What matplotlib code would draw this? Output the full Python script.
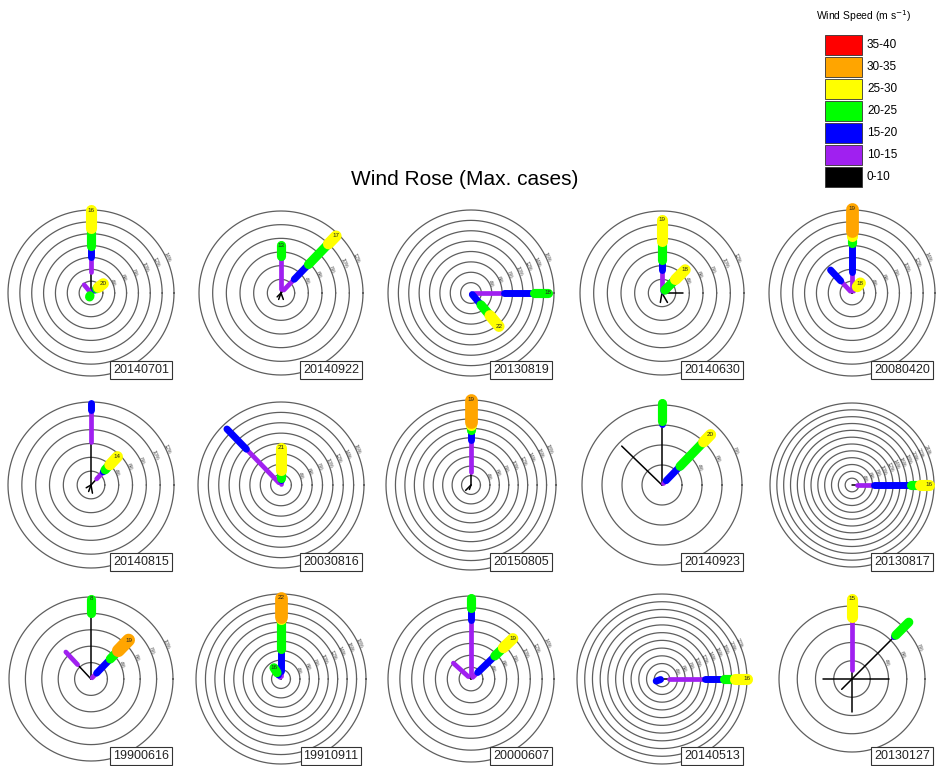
import numpy as np
import matplotlib
matplotlib.use('Agg')
import matplotlib.pyplot as plt

plt.rcParams['font.family'] = ['Liberation Sans', 'DejaVu Sans']

W, H = 937, 766

# ---- data ----
speed_bins = ['0-10', '10-15', '15-20', '20-25', '25-30', '30-35', '35-40']
bin_colors = ['#000000', '#a020f0', '#0000ff', '#00ff00', '#ffff00', '#ffa500', '#ff0000']
bin_widths = [1.1, 3.4, 5.0, 6.6, 8.0, 9.2, 10.0]

dates = ['20140701', '20140922', '20130819', '20140630', '20080420',
         '20140815', '20030816', '20150805', '20140923', '20130817',
         '19900616', '19910911', '20000607', '20140513', '20130127']
n_rings = [7, 6, 8, 6, 7, 6, 8, 9, 4, 12, 5, 9, 7, 11, 4]
outer_px = [83, 82, 83, 82, 83, 83, 83, 85, 80, 82, 82, 85, 83, 85, 73]

# wind directions (deg, clockwise from north) of each spoke
spoke_dirs = [
    [0, 53, 320, 200],
    [0, 44, 200, 160, 225],
    [90, 140],
    [0, 45, 90, 150, 190],
    [0, 317, 40],
    [0, 43, 170, 200, 240],
    [316, 0],
    [0, 225, 200],
    [0, 44, 314],
    [90],
    [0, 44, 317],
    [0, 328],
    [0, 46, 312],
    [90, 250],
    [0, 45, 90, 270, 180, 225],
]
# frequency contributed by each speed bin (ring units), per spoke
spoke_segs = [
    [[1.8, 1.2, 1.0, 1.5, 1.5], [0.2, 0.2, 0.2, 0.2, 0.5], [0.3, 0.6], [0.15, 0.05, 0.05, 0.1]],
    [[0.3, 2.3, 0.1, 0.8], [0.3, 1.1, 1.5, 2.1, 0.8], [0.5], [0.5], [0.4]],
    [[0.3, 2.9, 2.9, 1.3], [0.1, 0.1, 1.3, 1.35, 1.35]],
    [[0.3, 1.4, 0.7, 1.4, 1.55], [0.1, 0.1, 0.1, 1.1, 1.0], [1.5], [0.8], [0.7]],
    [[0.3, 1.5, 2.4, 0.6, 0.4, 1.9], [0.2, 1.2, 1.25], [0.2, 0.5, 0, 0, 0.4]],
    [[3.1, 2.3, 0.5], [0.6, 0.7, 0.2, 0.5, 0.8], [0.6], [0.5], [0.4]],
    [[0.3, 4.5, 2.7], [0.1, 0.4, 0.2, 0.7, 2.2]],
    [[1.4, 3.4, 1.05, 0.55, 0.3, 2.35], [0.8], [0.5]],
    [[3.0, 0.05, 0.15, 0.9], [0.1, 0.2, 1.0, 1.7, 0.5], [2.8]],
    [[0.7, 2.5, 5.4, 1.4, 1.3]],
    [[3.9, 0.1, 0, 0.9], [0.1, 0.4, 1.2, 0.7, 0, 0.9], [1.2, 1.05]],
    [[0.3, 0.5, 2.4, 3.2, 0.2, 2.0], [0.2, 0.3, 0.3, 0.6]],
    [[0.4, 4.6, 1.0, 0.8], [0.2, 0.6, 2.0, 1.0, 1.1], [0.3, 1.7]],
    [[0.9, 4.6, 2.5, 1.4, 1.6], [0.1, 0.1, 0.6]],
    [[0.5, 2.9, 0, 0, 1.0], [3.2, 0.1, 0.1, 1.0], [2.0], [1.6], [1.8], [0.8]],
]
spoke_labels = [
    ['16', '20', '', ''],
    ['13', '17', '', '', ''],
    ['18', '22'],
    ['19', '18', '', '', ''],
    ['19', '', '18'],
    ['', '14', '', '', ''],
    ['', '21'],
    ['19', '', ''],
    ['', '20', ''],
    ['16'],
    ['8', '19', ''],
    ['22', '16'],
    ['', '19', ''],
    ['16', ''],
    ['15', '', '', '', '', ''],
]

# ---- layout ----
col_x = [91, 281, 471, 662, 852]
row_y = [293, 485, 679]
S = 100  # half size of panel axes in px

fig = plt.figure(figsize=(W / 100, H / 100), dpi=100)

theta = np.linspace(0, 2 * np.pi, 361)
for p in range(15):
    cx = col_x[p % 5]
    cy = row_y[p // 5]
    ax = fig.add_axes([(cx - S) / W, 1 - (cy + S) / H, 2 * S / W, 2 * S / H])
    n = n_rings[p]
    lim = S * n / outer_px[p]
    ax.set_xlim(-lim, lim)
    ax.set_ylim(-lim, lim)
    ax.axis('off')

    for k in range(1, n + 1):
        ax.plot(k * np.cos(theta), k * np.sin(theta), color='#5e5e5e', lw=0.9, zorder=1)
        if k >= 2:
            b = np.deg2rad(65)
            ax.text((k + 0.08) * np.sin(b), (k + 0.08) * np.cos(b), f'{k * 2}%',
                    fontsize=3.8, color='#4a4a4a', rotation=-65,
                    ha='center', va='center', zorder=1)

    for d, segs, lab in zip(spoke_dirs[p], spoke_segs[p], spoke_labels[p]):
        a = np.deg2rad(d)
        r0 = 0.0
        for i, L in enumerate(segs):
            if L <= 0:
                continue
            r1 = r0 + L
            ax.plot([r0 * np.sin(a), r1 * np.sin(a)], [r0 * np.cos(a), r1 * np.cos(a)],
                    color=bin_colors[i], lw=bin_widths[i], solid_capstyle='round',
                    zorder=2 + i)
            r0 = r1
        if lab:
            ax.text(r0 * np.sin(a), r0 * np.cos(a), lab, fontsize=4.5,
                    color='#222222', ha='center', va='center', zorder=20)

    ax.text(0.75, 0.115, dates[p], transform=ax.transAxes, ha='center', va='center',
            fontsize=9, color='#222222', zorder=30,
            bbox=dict(boxstyle='square,pad=0.22', fc='white', ec='#333333', lw=0.8))

fig.text(0.496, 0.766, 'Wind Rose (Max. cases)', ha='center', va='center', fontsize=15)

# legend
lax = fig.add_axes([825 / W, 1 - 188 / H, 110 / W, 154 / H])
lax.set_xlim(0, 110)
lax.set_ylim(0, 7)
lax.axis('off')
for i, (lab, col) in enumerate(zip(speed_bins, bin_colors)):
    lax.bar(0, 0.87, bottom=i + 0.065, width=37, align='edge', color=col,
            edgecolor='#333333', linewidth=0.6)
    lax.text(42, i + 0.5, lab, fontsize=8.5, va='center', ha='left')
fig.text(864 / W, 1 - 16 / H, 'Wind Speed (m s$^{-1}$)', fontsize=7.5,
         ha='center', va='center')

fig.savefig('out.png', dpi=100)
